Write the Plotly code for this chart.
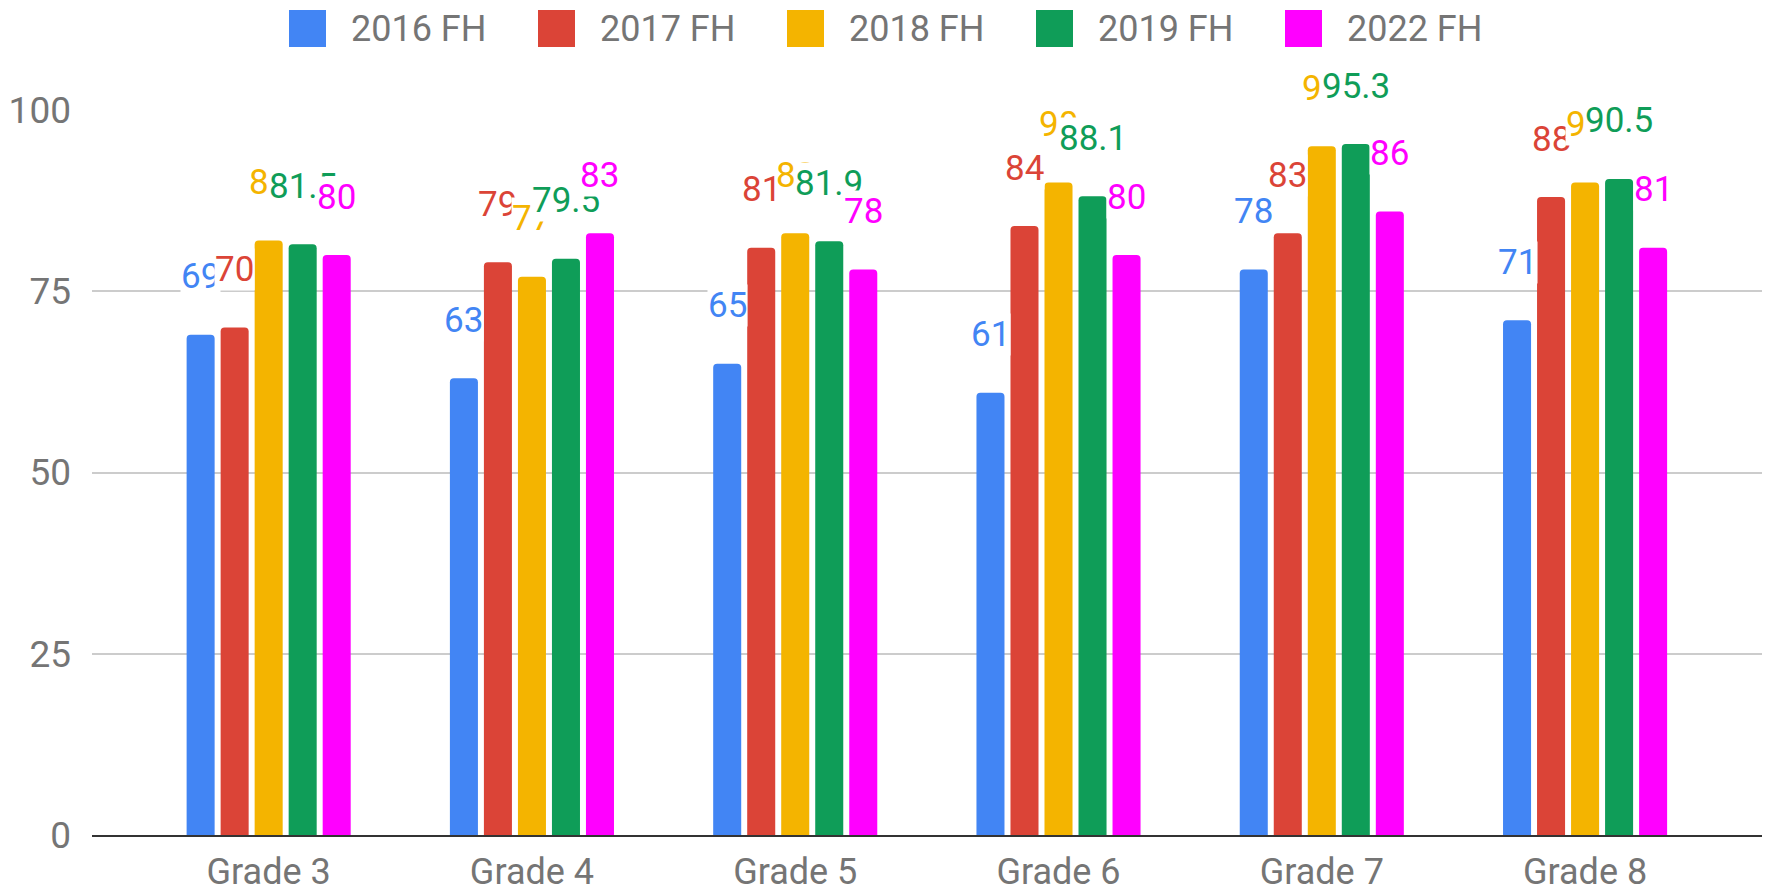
import plotly.graph_objects as go

categories = ["Grade 3", "Grade 4", "Grade 5", "Grade 6", "Grade 7", "Grade 8"]
series_names = ["2016 FH", "2017 FH", "2018 FH", "2019 FH", "2022 FH"]
fh_2016 = [69, 63, 65, 61, 78, 71]
fh_2017 = [70, 79, 81, 84, 83, 88]
fh_2018 = [82, 77, 83, 90, 95, 90]
fh_2019 = [81.5, 79.5, 81.9, 88.1, 95.3, 90.5]
fh_2022 = [80, 83, 78, 80, 86, 81]
y_ticks = [0, 25, 50, 75, 100]

series_values = [fh_2016, fh_2017, fh_2018, fh_2019, fh_2022]
colors = ["#4285F4", "#DB4437", "#F4B400", "#0F9D58", "#FF00FF"]

W, H = 1769, 892
L, R, T, B = 92, 7, 110, 57
pw, ph = W - L - R, H - T - B
FONT = "Roboto"
GRAY = "#757575"

fig = go.Figure()
for name, vals, c in zip(series_names, series_values, colors):
    fig.add_trace(go.Bar(x=categories, y=vals, name=name, marker_color=c,
                         marker_line_width=0, showlegend=False))

slot = 34
annotations = []
for i, cat in enumerate(categories):
    for j, vals in enumerate(series_values):
        v = vals[i]
        annotations.append(dict(
            x=cat, y=v, xref="x", yref="y", text=f"{v:g}", showarrow=False,
            xshift=(j - 2) * slot, yshift=58, xanchor="center", yanchor="middle",
            font=dict(family=FONT, size=35, color=colors[j]),
            bgcolor="white", borderpad=0))

def px2paper_x(px):
    return (px - L) / pw

def px2paper_y(py):
    return (H - B - py) / ph

shapes = []
leg_x0 = 289
leg_step = 249
for j, (name, c) in enumerate(zip(series_names, colors)):
    x0 = leg_x0 + j * leg_step
    shapes.append(dict(type="rect", xref="paper", yref="paper",
                       x0=px2paper_x(x0), x1=px2paper_x(x0 + 37),
                       y0=px2paper_y(47), y1=px2paper_y(10),
                       fillcolor=c, line_width=0, layer="above"))
    annotations.append(dict(x=px2paper_x(x0 + 60), y=px2paper_y(29), xref="paper", yref="paper",
                            text=name, showarrow=False, xanchor="left", yanchor="middle",
                            font=dict(family=FONT, size=36, color=GRAY)))

fig.update_layout(
    width=W, height=H,
    margin=dict(l=L, r=R, t=T, b=B, pad=0, autoexpand=False),
    paper_bgcolor="white", plot_bgcolor="white",
    barmode="group", bargap=0.354, bargroupgap=0.176,
    barcornerradius=4,
    font=dict(family=FONT, size=36, color=GRAY),
    xaxis=dict(range=[-0.671, 5.672], showgrid=False, showline=True,
               linecolor="#333333", linewidth=2, ticks="", automargin=False,
               tickfont=dict(family=FONT, size=36, color=GRAY),
               ticklabelstandoff=4, zeroline=False),
    yaxis=dict(range=[0, 100], tickvals=y_ticks, showgrid=True,
               gridcolor="#cccccc", gridwidth=2, zeroline=False,
               showline=False, ticks="", automargin=False,
               tickfont=dict(family=FONT, size=37, color=GRAY),
               ticklabelstandoff=20),
    annotations=annotations,
    shapes=shapes,
    showlegend=False,
)

fig.write_html("out.html", config={"displayModeBar": False},
               post_script="document.body.style.margin='0';document.body.style.overflow='hidden';")
